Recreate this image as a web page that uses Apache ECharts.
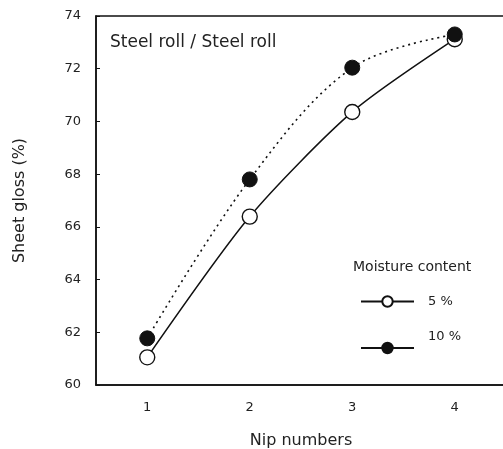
<!DOCTYPE html>
<html>
<head>
<meta charset="utf-8">
<script src="https://cdn.jsdelivr.net/npm/echarts@6/dist/echarts.min.js"></script>
<style>
    html, body { margin: 0; padding: 0; background: #fff; }
    #chart { width: 503px; height: 449px; }
</style>
</head>
<body>
<div id="chart"></div>
<script>
    // 数据
    var nips = ['1', '2', '3', '4'];
    var moisture5 = [61.05, 66.39, 70.36, 73.12];
    var moisture10 = [61.77, 67.8, 72.04, 73.3];
    var yTicks = { min: 60, max: 74, interval: 2 };

    var myChart = echarts.init(document.getElementById('chart'));
    var font = '"DejaVu Sans", sans-serif';

    // 图例公共样式
    var legendBase = {
        orient: 'vertical',
        left: 360,
        padding: 0,
        itemWidth: 53,
        itemHeight: 13,
        textStyle: { fontFamily: font, fontSize: 13, color: '#222', padding: [0, 0, 0, 9] }
    };

    var option = {
        animation: false,
        textStyle: { fontFamily: font, color: '#222' },
        grid: {
            show: true,
            left: 96,
            top: 16,
            bottom: 64,
            right: -3,
            outerBoundsMode: 'none',
            containLabel: false,
            borderColor: '#111',
            borderWidth: 1.5
        },
        legend: [
            Object.assign({}, legendBase, {
                top: 295,
                data: [{ name: '5 %', lineStyle: { type: 'solid' } }]
            }),
            Object.assign({}, legendBase, {
                top: 326,
                formatter: '{name}\n',
                textStyle: { fontFamily: font, fontSize: 13, color: '#222', lineHeight: 22, padding: [0, 0, 0, 9] },
                data: [{ name: '10 %', lineStyle: { type: 'solid' } }]
            })
        ],
        graphic: [
            {
                type: 'text', left: 110, top: 34,
                style: { text: 'Steel roll / Steel roll', font: '17px ' + font, fill: '#222' }
            },
            {
                type: 'text', left: 353, top: 260,
                style: { text: 'Moisture content', font: '14px ' + font, fill: '#222' }
            }
        ],
        xAxis: {
            type: 'category',
            data: nips,
            boundaryGap: true,
            name: 'Nip numbers',
            nameLocation: 'middle',
            nameGap: 48,
            nameTextStyle: { fontSize: 16, color: '#222' },
            axisLine: { lineStyle: { color: '#111', width: 1.5 } },
            axisTick: { inside: true, length: 4, lineStyle: { color: '#111' } },
            axisLabel: { fontSize: 13, color: '#222', margin: 16 },
            splitLine: { show: false }
        },
        yAxis: {
            type: 'value',
            min: yTicks.min,
            max: yTicks.max,
            interval: yTicks.interval,
            name: 'Sheet gloss (%)',
            nameLocation: 'middle',
            nameGap: 68,
            nameTextStyle: { fontSize: 16, color: '#222' },
            axisLine: { show: true, lineStyle: { color: '#111', width: 1.5 } },
            axisTick: { show: true, inside: true, length: 4, lineStyle: { color: '#111' } },
            axisLabel: { fontSize: 13, color: '#222', margin: 15 },
            splitLine: { show: false }
        },
        series: [
            {
                name: '5 %',
                type: 'line',
                data: moisture5,
                smooth: 0.25,
                symbol: 'circle',
                symbolSize: 15,
                itemStyle: { color: '#fff', borderColor: '#111', borderWidth: 1.4 },
                lineStyle: { color: '#111', width: 1.5 },
                z: 3
            },
            {
                name: '10 %',
                type: 'line',
                data: moisture10,
                smooth: 0.35,
                symbol: 'circle',
                symbolSize: 15,
                itemStyle: { color: '#111', borderColor: '#111', borderWidth: 1 },
                lineStyle: { color: '#111', width: 1.6, type: [2, 4] },
                z: 4
            }
        ]
    };

    myChart.setOption(option);
</script>
</body>
</html>
